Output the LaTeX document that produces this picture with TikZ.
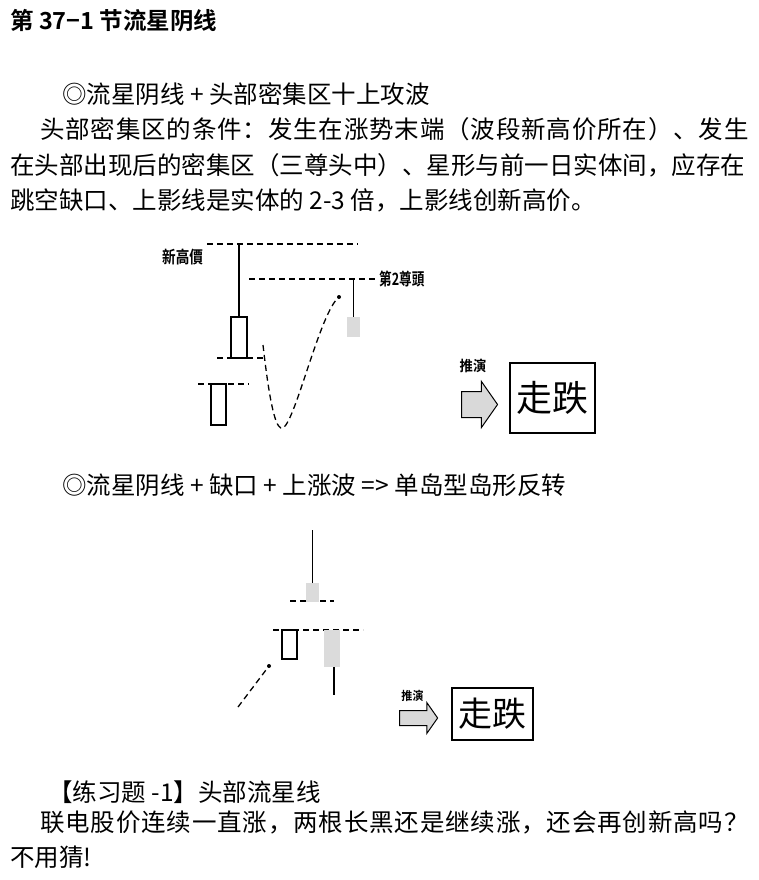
\documentclass[tikz,border=0pt]{standalone}
\usepackage{fontspec}
\usepackage{graphicx}
\setmainfont{Noto Sans CJK SC}[BoldFont={Noto Sans CJK SC Bold}]
\usetikzlibrary{shapes.arrows}

\begin{document}
\begin{tikzpicture}[x=1pt,y=-1pt,
   line/.style={font=\fontsize{24.5}{35}\selectfont,anchor=base west,inner sep=0},
   tag/.style={font=\bfseries\fontsize{17}{17}\selectfont,inner sep=0},
   gap/.style={line width=1.4pt,dash pattern=on 6pt off 4pt},
   wick/.style={line width=1.1pt},
   yang/.style={draw,line width=1.1pt,fill=white,inner sep=0},
   star/.style={fill=black!14,inner sep=0},
   push/.style={single arrow,draw,line width=1pt,fill=black!15,inner xsep=0,single arrow head indent=0,single arrow tip angle=110},
   verdict/.style={draw,line width=1.2pt,inner sep=0}]
   \useasboundingbox (0,0) rectangle (758,880) ;

   \node[line,font=\bfseries\fontsize{23.5}{23.5}\selectfont] (title) at (10,30) {第 37−1 节流星阴线};
   \node[line] (p1) at (62,104) {◎流星阴线 + 头部密集区十上攻波};
   \node[line] (p2) at (40,139) {\addfontfeature{LetterSpace=3.4}头部密集区的条件：发生在涨势末端（波段新高价所在）、发生};
   \node[line] (p3) at (10,174) {在头部出现后的密集区（三尊头中）、星形与前一日实体间，应存在};
   \node[line] (p4) at (10,209) {跳空缺口、上影线是实体的 2-3 倍，上影线创新高价。};
   \node[line] (p5) at (62,494) {◎流星阴线 + 缺口 + 上涨波 => 单岛型岛形反转};
   \node[line] (q1) at (48,801) {【练习题 -1】头部流星线};
   \node[line] (q2) at (40,831) {\addfontfeature{LetterSpace=3.4}联电股价连续一直涨，两根长黑还是继续涨，还会再创新高吗？};
   \node[line] (q3) at (10,866) {不用猜!};

   \draw[gap] (207,244) -- (358,244) ;
   \draw[gap] (249,279) -- (377,279) ;
   \draw[gap] (217,358) -- (265,358) ;
   \draw[gap] (198,384) -- (249,384) ;
   \node[tag,anchor=west] (newhigh) at (162,257) {\scalebox{0.8}[1]{新高價}};
   \node[tag,anchor=west] (head2) at (379,279) {\scalebox{0.74}[1]{第2尊頭}};
   \node[yang,minimum width=16,minimum height=41] (c1) at (239,337.5) {};
   \node[yang,minimum width=15,minimum height=41] (c2) at (218.5,404.5) {};
   \node[star,minimum width=13,minimum height=20] (s1) at (353.5,327) {};
   \coordinate (h1) at (239,244) ;
   \coordinate (h2) at (353.5,279) ;
   \draw[wick] (c1) -- (h1) ;
   \draw[wick] (s1) -- (h2) ;
   \coordinate (fall) at (263,345) ;
   \coordinate (low) at (283,428) ;
   \coordinate (peak) at (339,297) ;
   \draw[gap,line width=1.3pt] (fall) .. controls (271,415) and (277,430) .. (low) .. controls (296,420) and (320,312) .. (peak) ;
   \fill (peak) circle[radius=2pt] ;

   \node[tag,font=\bfseries\fontsize{14.5}{14.5}\selectfont] (guess1) at (473,366) {\scalebox{0.92}[1]{推演}};
   \node[push,minimum height=36,inner ysep=12.5,single arrow head extend=10] (arr1) at (475,404.5) {};
   \node[verdict,minimum width=85,minimum height=70,font=\fontsize{36}{36}\selectfont] (down1) at (552.5,398) {走跌};

   \draw[gap] (290,601) -- (334,601) ;
   \draw[gap] (273,630) -- (363,630) ;
   \node[star,minimum width=13,minimum height=19] (s2) at (312.5,592.5) {};
   \node[yang,minimum width=15,minimum height=29] (c3) at (289.5,644.5) {};
   \node[star,minimum width=16,minimum height=37] (s3) at (332,648.5) {};
   \coordinate (h3) at (312.5,530) ;
   \coordinate (t3) at (334,695) ;
   \draw[wick] (s2) -- (h3) ;
   \draw[wick] ([xshift=2pt]s3.south) -- (t3) ;
   \coordinate (rise) at (238,707) ;
   \coordinate (gapup) at (269,666) ;
   \draw[gap,line width=1.3pt] (rise) -- (gapup) ;
   \fill (gapup) circle[radius=2pt] ;

   \node[tag,font=\bfseries\fontsize{12}{12}\selectfont] (guess2) at (412.5,696) {\scalebox{0.92}[1]{推演}};
   \node[push,minimum height=38,inner ysep=7,single arrow head extend=8] (arr2) at (416,718) {};
   \node[verdict,minimum width=81,minimum height=52,font=\fontsize{34}{34}\selectfont] (down2) at (492.5,714) {走跌};
\end{tikzpicture}
\end{document}
